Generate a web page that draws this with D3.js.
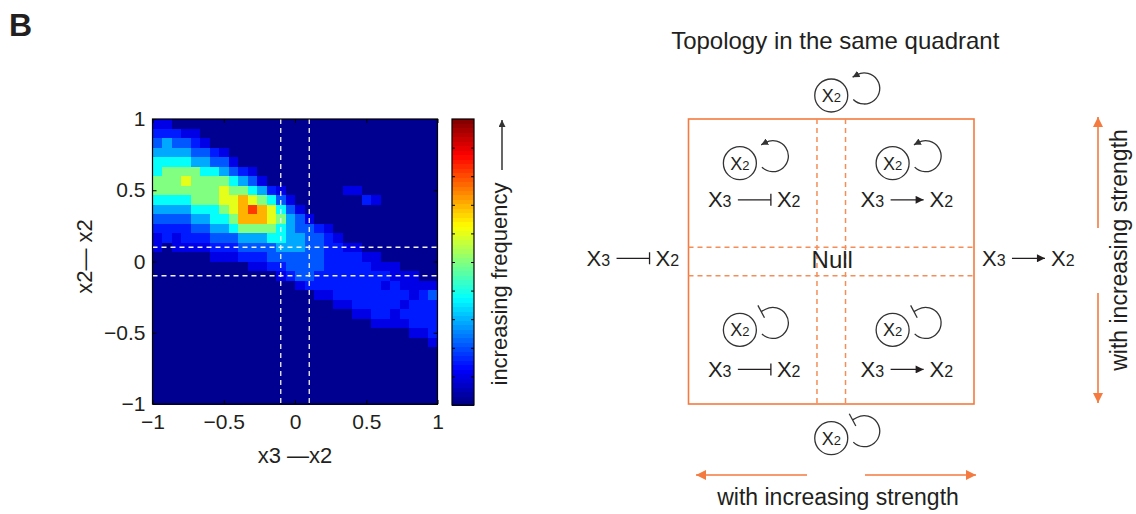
<!DOCTYPE html>
<html>
<head>
<meta charset="utf-8">
<script src="https://cdn.jsdelivr.net/npm/d3@7"></script>
<style>
  body { margin: 0; background: #fff; }
  text { font-family: "Liberation Sans", Arial, sans-serif; fill: #231f20; }
</style>
</head>
<body>
<svg id="fig" width="1136" height="514"></svg>
<script>
// ---- data ----
const xTicks = [-1, -0.5, 0, 0.5, 1];
const yTicks = [-1, -0.5, 0, 0.5, 1];
const cutoffs = [-0.1, 0.1];

// frequency level (0-9) per bin, rows go from x2-x2 = 1 (top) down to -1, columns from x3-x2 = -1 to 1
const freqRows = [
  "1100000000 0000000000 0000000000",
  "2221100000 0000000000 0000000000",
  "3433210000 0000000000 0000000000",
  "4444332100 0000000000 0000000000",
  "5555443310 0000000000 0000000000",
  "5666655432 1000000000 0000000000",
  "6667666654 3100000000 0000000000",
  "6666666766 5421000000 1100000000",
  "5555666778 7653100000 0021000000",
  "4444555678 9875310000 0000000000",
  "3333445568 8876431000 0000000000",
  "2222334456 6665433210 0000000000",
  "1212223334 4455443321 0000000000",
  "1011112223 3334443322 1100000000",
  "0000001112 2233333322 2211000000",
  "0000000000 1122333322 2221110000",
  "0000000000 0001233222 2222211100",
  "0000000000 0000012222 2222121111",
  "0000000000 0000000112 2222222123",
  "0000000000 0000000001 1222221222",
  "0000000000 0000000000 0112212222",
  "0000000000 0000000000 0001111222",
  "0000000000 0000000000 0000000112",
  "0000000000 0000000000 0000000001",
  "0000000000 0000000000 0000000000",
  "0000000000 0000000000 0000000000",
  "0000000000 0000000000 0000000000",
  "0000000000 0000000000 0000000000",
  "0000000000 0000000000 0000000000",
  "0000000000 0000000000 0000000000"
];
// position on the colour bar of each level
const freqLevels = [0.016, 0.1, 0.15, 0.21, 0.29, 0.38, 0.5, 0.6, 0.7, 0.82];
const cbarTicks = [0.1, 0.2, 0.3, 0.4, 0.5, 0.6, 0.7, 0.8, 0.9];

// topology diagram: self loop and x3 link in each quadrant
const quadrants = [
  { qx: -1, qy: 1, self: "act", link: "inh" },
  { qx: 1, qy: 1, self: "act", link: "act" },
  { qx: -1, qy: -1, self: "inh", link: "inh" },
  { qx: 1, qy: -1, self: "inh", link: "act" }
];
const outerNodes = [{ side: 1, self: "act" }, { side: -1, self: "inh" }];
const outerLinks = [{ side: -1, link: "inh" }, { side: 1, link: "act" }];

// ---- drawing ----
const svg = d3.select("#fig");
const ink = "#333";
const orange = "#f47a3f";

const defs = svg.append("defs");
function marker(id, color, w, h) {
  defs.append("marker")
    .attr("id", id)
    .attr("viewBox", "0 -5 10 10")
    .attr("refX", 10).attr("refY", 0)
    .attr("markerUnits", "userSpaceOnUse")
    .attr("markerWidth", w).attr("markerHeight", h)
    .attr("orient", "auto")
    .append("path")
    .attr("d", "M0,-5L10,0L0,5Z")
    .attr("fill", color);
}
marker("headK", ink, 7, 7);
marker("headR", "#231f20", 10, 8);
marker("headO", orange, 12, 10);

svg.append("text")
  .attr("x", 9).attr("y", 36)
  .attr("font-size", 32).attr("font-weight", "bold")
  .text("B");

// heat map
const nBins = 30;
const x = d3.scaleLinear().domain([-1, 1]).range([152.5, 437.5]);
const y = d3.scaleLinear().domain([-1, 1]).range([404, 119]);
const bin = d3.scaleLinear().domain([0, nBins]).range([-1, 1]);
const fmt = d3.format("~g");

const jet = (v) => {
  const f = (t) => Math.max(0, Math.min(1, 1.5 - Math.abs(t)));
  return d3.rgb(255 * f(4 * v - 3), 255 * f(4 * v - 2), 255 * f(4 * v - 1)).formatHex();
};

const cells = freqRows.flatMap((row, r) =>
  row.replace(/ /g, "").split("").slice(0, nBins).map((ch, c) => ({ r, c, v: +ch }))
);
const cw = x(bin(1)) - x(bin(0));

svg.append("g")
  .attr("shape-rendering", "crispEdges")
  .selectAll("rect")
  .data(cells)
  .join("rect")
  .attr("x", (d) => x(bin(d.c)))
  .attr("y", (d) => y(-bin(d.r)))
  .attr("width", cw + 0.5)
  .attr("height", cw + 0.5)
  .attr("fill", (d) => jet(freqLevels[d.v]));

const dashes = svg.append("g")
  .attr("stroke", "#f2f2f2")
  .attr("stroke-width", 1.3)
  .attr("stroke-dasharray", "5,4");
cutoffs.forEach((c) => {
  dashes.append("line").attr("x1", x(c)).attr("x2", x(c)).attr("y1", y(1)).attr("y2", y(-1));
  dashes.append("line").attr("x1", x(-1)).attr("x2", x(1)).attr("y1", y(c)).attr("y2", y(c));
});

function styleAxis(g) {
  g.attr("font-size", 21).attr("color", "#000");
  g.select(".domain").remove();
}
svg.append("g").attr("transform", `translate(0,${y(-1)})`)
  .call(d3.axisBottom(x).tickValues(xTicks).tickFormat(fmt).tickSizeInner(-4).tickSizeOuter(0).tickPadding(10))
  .call(styleAxis);
svg.append("g").attr("transform", `translate(0,${y(1)})`)
  .call(d3.axisTop(x).tickValues(xTicks).tickSizeInner(-4).tickSizeOuter(0).tickFormat(""))
  .call(styleAxis);
svg.append("g").attr("transform", `translate(${x(-1)},0)`)
  .call(d3.axisLeft(y).tickValues(yTicks).tickFormat(fmt).tickSizeInner(-4).tickSizeOuter(0).tickPadding(7))
  .call(styleAxis);
svg.append("g").attr("transform", `translate(${x(1)},0)`)
  .call(d3.axisRight(y).tickValues(yTicks).tickSizeInner(-4).tickSizeOuter(0).tickFormat(""))
  .call(styleAxis);

svg.append("rect")
  .attr("x", x(-1)).attr("y", y(1))
  .attr("width", x(1) - x(-1)).attr("height", y(-1) - y(1))
  .attr("fill", "none").attr("stroke", "#000").attr("stroke-width", 1.2);

svg.append("text")
  .attr("x", (x(-1) + x(1)) / 2).attr("y", 463)
  .attr("text-anchor", "middle").attr("font-size", 22)
  .text("x3 \u2014x2");
svg.append("text")
  .attr("transform", `translate(92,${(y(-1) + y(1)) / 2 - 5}) rotate(-90)`)
  .attr("text-anchor", "middle").attr("font-size", 22)
  .text("x2\u2014 x2");

// colour bar
const cb = d3.scaleLinear().domain([0, 1]).range([405, 119]);
const cbX0 = 452, cbX1 = 474;
const nBands = 64;
svg.append("g")
  .attr("shape-rendering", "crispEdges")
  .selectAll("rect")
  .data(d3.range(nBands))
  .join("rect")
  .attr("x", cbX0).attr("width", cbX1 - cbX0)
  .attr("y", (k) => cb((k + 1) / nBands))
  .attr("height", cb(0) - cb(1 / nBands) + 0.5)
  .attr("fill", (k) => jet((k + 0.5) / nBands));
svg.append("g").attr("transform", `translate(${cbX0},0)`)
  .call(d3.axisLeft(cb).tickValues(cbarTicks).tickSizeInner(-3).tickSizeOuter(0).tickFormat(""))
  .call(styleAxis);
svg.append("g").attr("transform", `translate(${cbX1},0)`)
  .call(d3.axisRight(cb).tickValues(cbarTicks).tickSizeInner(-3).tickSizeOuter(0).tickFormat(""))
  .call(styleAxis);
svg.append("rect")
  .attr("x", cbX0).attr("y", cb(1))
  .attr("width", cbX1 - cbX0).attr("height", cb(0) - cb(1))
  .attr("fill", "none").attr("stroke", "#000").attr("stroke-width", 1.2);

svg.append("text")
  .attr("transform", `translate(507,284) rotate(-90)`)
  .attr("text-anchor", "middle").attr("font-size", 22)
  .text("increasing frequency");
svg.append("line")
  .attr("x1", 502).attr("x2", 502).attr("y1", 170).attr("y2", 120)
  .attr("stroke", "#000").attr("stroke-width", 1.2)
  .attr("marker-end", "url(#headK)");

// topology diagram, same square as the heat map
const bx = d3.scaleLinear().domain([-1, 1]).range([688.5, 974]);
const by = d3.scaleLinear().domain([-1, 1]).range([404, 119]);
const dia = svg.append("g");

dia.append("text")
  .attr("x", bx(0) + 4).attr("y", 49)
  .attr("text-anchor", "middle").attr("font-size", 24)
  .text("Topology in the same quadrant");

dia.append("rect")
  .attr("x", bx(-1)).attr("y", by(1))
  .attr("width", bx(1) - bx(-1)).attr("height", by(-1) - by(1))
  .attr("fill", "none").attr("stroke", orange).attr("stroke-width", 1.6);
const odash = dia.append("g")
  .attr("stroke", "#f58d58").attr("stroke-width", 1.5).attr("stroke-dasharray", "5,4");
cutoffs.forEach((c) => {
  odash.append("line").attr("x1", bx(c)).attr("x2", bx(c)).attr("y1", by(1)).attr("y2", by(-1));
  odash.append("line").attr("x1", bx(-1)).attr("x2", bx(1)).attr("y1", by(c)).attr("y2", by(c));
});

dia.append("text")
  .attr("x", bx(0) + 1).attr("y", 268)
  .attr("text-anchor", "middle").attr("font-size", 24)
  .text("Null");

function xLabel(g, x0, base, idx, big, small) {
  const t = g.append("text").attr("x", x0).attr("y", base);
  t.append("tspan").attr("font-size", big).text("X");
  t.append("tspan").attr("font-size", small).text(idx);
}

function node(g, cx, cy, kind) {
  g.append("circle")
    .attr("cx", cx).attr("cy", cy).attr("r", 16.5)
    .attr("fill", "#fff").attr("stroke", ink).attr("stroke-width", 1.3);
  const t = g.append("text").attr("x", cx).attr("y", cy + 6.5).attr("text-anchor", "middle");
  t.append("tspan").attr("font-size", 18).text("X");
  t.append("tspan").attr("font-size", 13).text("2");

  const lx = cx + 33, ly = cy - 7, R = 15.5;
  const a0 = (135 * Math.PI) / 180, a1 = (-118 * Math.PI) / 180;
  const p = d3.path();
  p.moveTo(lx + R * Math.cos(a0), ly + R * Math.sin(a0));
  p.arc(lx, ly, R, a0, a1, true);
  const tx = Math.sin(a1), ty = -Math.cos(a1);
  const ex = lx + R * Math.cos(a1) + tx * 5, ey = ly + R * Math.sin(a1) + ty * 5;
  p.lineTo(ex, ey);
  g.append("path")
    .attr("d", p.toString())
    .attr("fill", "none").attr("stroke", ink).attr("stroke-width", 1.3)
    .attr("marker-end", kind === "act" ? "url(#headK)" : null);
  if (kind === "inh") {
    g.append("line")
      .attr("x1", ex - ty * 7).attr("y1", ey + tx * 7)
      .attr("x2", ex + ty * 7).attr("y2", ey - tx * 7)
      .attr("stroke", ink).attr("stroke-width", 1.3);
  }
}

function relation(g, cx, base, kind) {
  xLabel(g, cx - 47, base, "3", 22, 16);
  xLabel(g, cx + 22, base, "2", 22, 16);
  const ly = base - 7.5;
  g.append("line")
    .attr("x1", cx - 17).attr("x2", cx + 16).attr("y1", ly).attr("y2", ly)
    .attr("stroke", "#231f20").attr("stroke-width", 1.3)
    .attr("marker-end", kind === "act" ? "url(#headR)" : null);
  if (kind === "inh") {
    g.append("line")
      .attr("x1", cx + 16).attr("x2", cx + 16).attr("y1", ly - 6).attr("y2", ly + 6)
      .attr("stroke", "#231f20").attr("stroke-width", 1.3);
  }
}

quadrants.forEach((q) => {
  const cx = bx(q.qx * 0.535);
  const nodeY = q.qy > 0 ? by(0.69) : by(-0.48);
  const textY = q.qy > 0 ? by(0.38) : by(-0.81);
  node(dia, cx - 15, nodeY, q.self);
  relation(dia, cx, textY, q.link);
});

outerNodes.forEach((o) => {
  node(dia, bx(0), o.side > 0 ? by(1.165) : by(-1.24), o.self);
});
outerLinks.forEach((o) => {
  relation(dia, bx(o.side * 1.385), by(-0.03), o.link);
});

// "with increasing strength" arrows
const oa = dia.append("g").attr("stroke", orange).attr("stroke-width", 1.6);
oa.append("line").attr("x1", 807).attr("x2", 696).attr("y1", 475).attr("y2", 475).attr("marker-end", "url(#headO)");
oa.append("line").attr("x1", 865).attr("x2", 976).attr("y1", 475).attr("y2", 475).attr("marker-end", "url(#headO)");
oa.append("line").attr("x1", 1098).attr("x2", 1098).attr("y1", 228).attr("y2", 117).attr("marker-end", "url(#headO)");
oa.append("line").attr("x1", 1098).attr("x2", 1098).attr("y1", 293).attr("y2", 403).attr("marker-end", "url(#headO)");

dia.append("text")
  .attr("x", 838).attr("y", 505)
  .attr("text-anchor", "middle").attr("font-size", 23)
  .text("with increasing strength");
dia.append("text")
  .attr("transform", `translate(1127,250) rotate(-90)`)
  .attr("text-anchor", "middle").attr("font-size", 23)
  .text("with increasing strength");
</script>
</body>
</html>
